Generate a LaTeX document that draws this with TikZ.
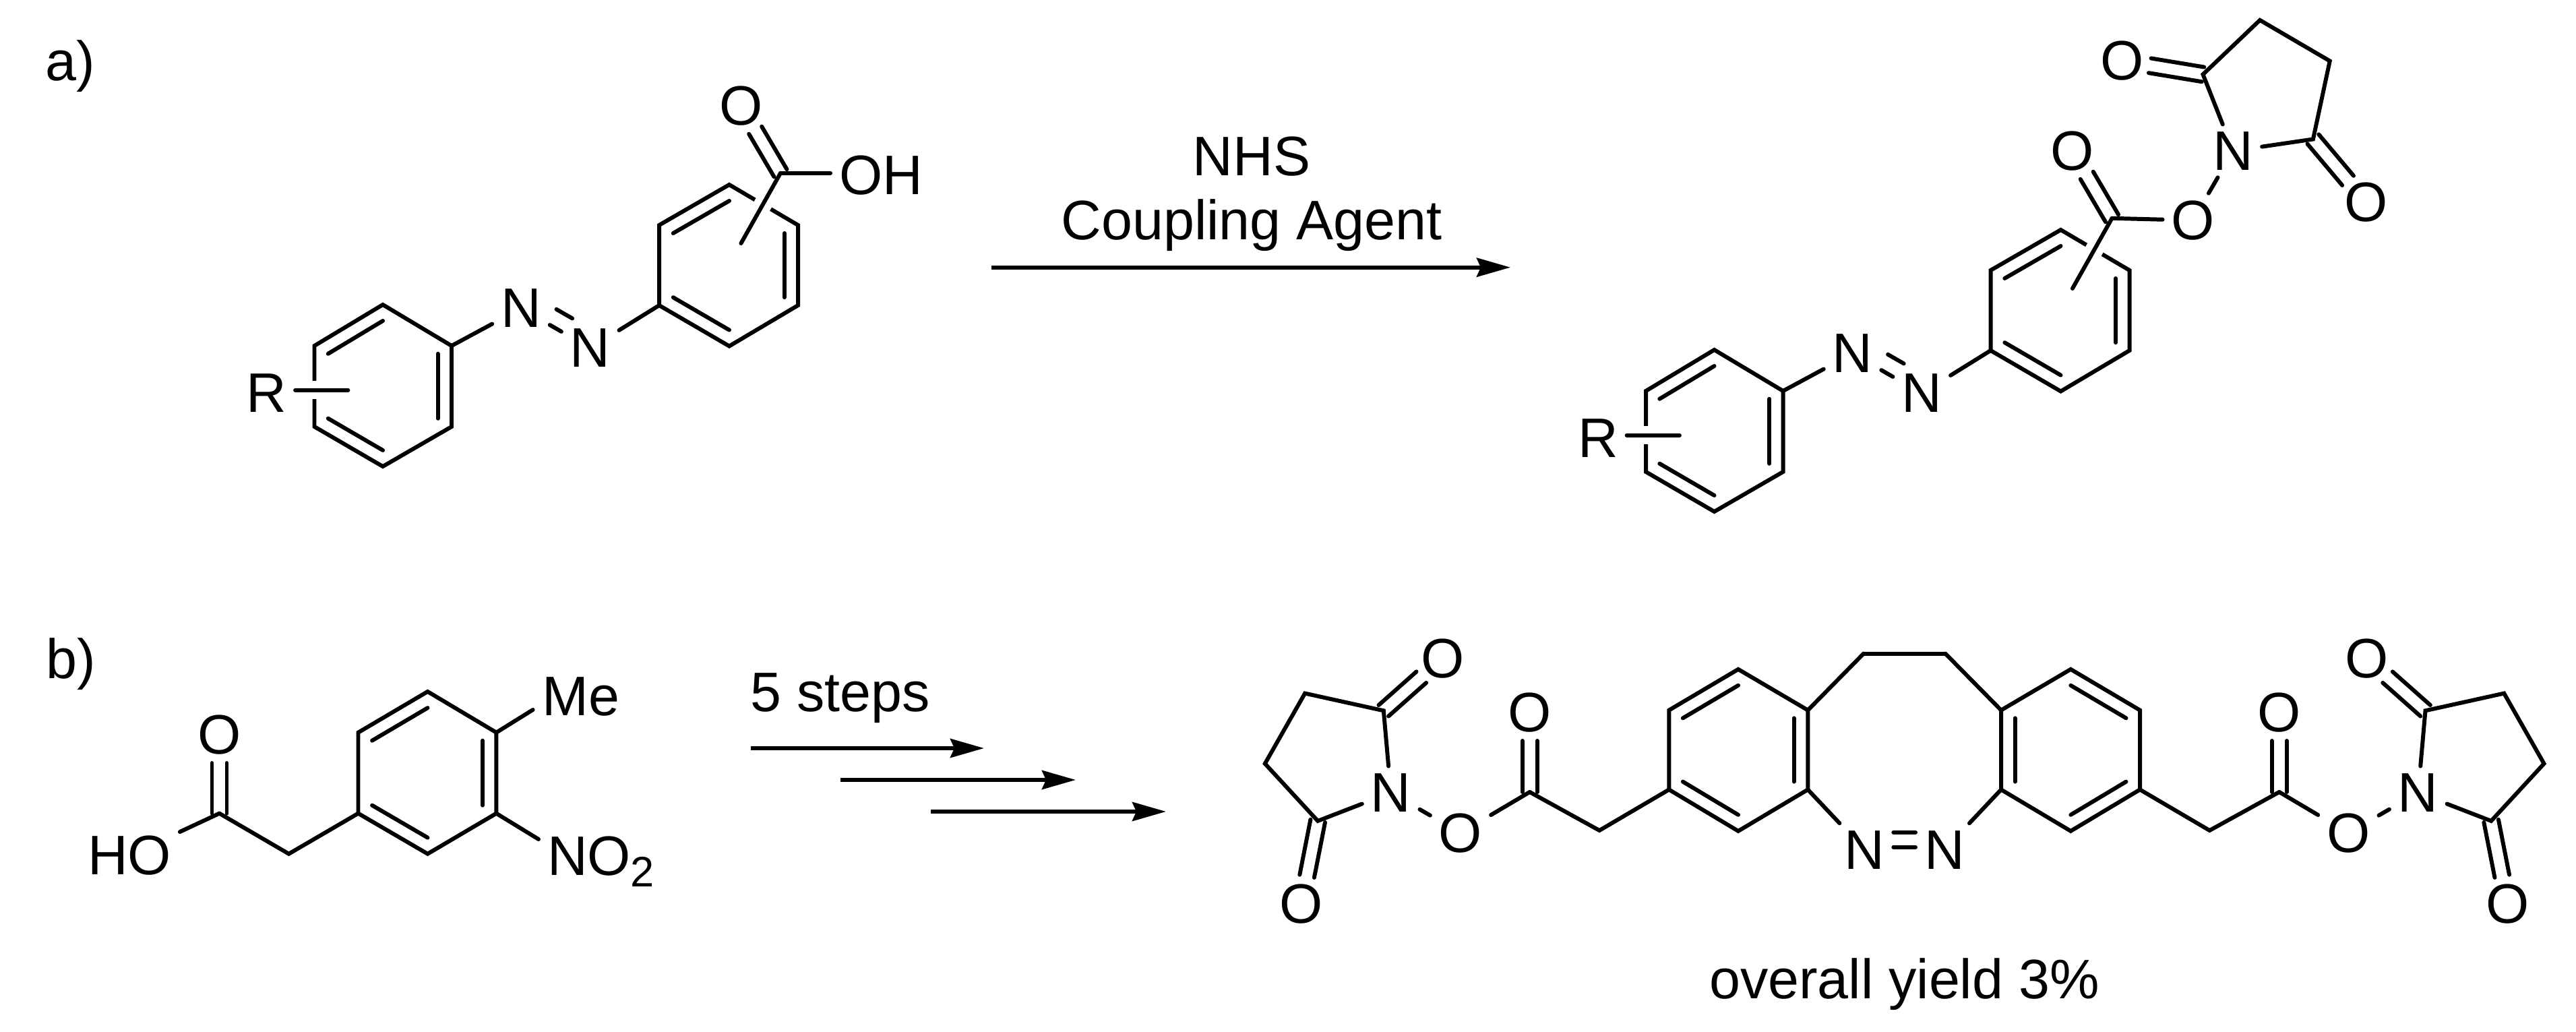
\documentclass[tikz,border=0pt]{standalone}
\usepackage{fontspec}
\setmainfont{Liberation Sans}
\usepackage{tikz}
\usetikzlibrary{arrows.meta,calc}

% double bond lines
\newcommand{\innerbond}[3]{\draw ($(#1)!.2!(#3)$) -- ($(#2)!.2!(#3)$);}
\newcommand{\dblbond}[2]{
\draw[shorten >=0.42cm] ($(#1)!0.11cm!90:(#2)$) -- ($(#2)!0.11cm!-90:(#1)$);
\draw[shorten >=0.42cm] ($(#1)!0.11cm!-90:(#2)$) -- ($(#2)!0.11cm!90:(#1)$);
}

\tikzset{
atom/.style={inner xsep=0.1cm,inner ysep=0.08cm},
txt/.style={inner sep=0pt,anchor=base},
halo/.style={preaction={draw,white,line width=0.27cm,line cap=butt}},
reaction/.style={-{Stealth[length=0.5cm,width=0.28cm,inset=0.06cm]},line width=0.06cm,line cap=butt},
azobenzene/.pic={
\coordinate (1) at (5.68cm,-4.52cm);
\coordinate (2) at (6.70cm,-5.13cm);
\coordinate (3) at (6.70cm,-6.33cm);
\coordinate (4) at (5.68cm,-6.92cm);
\coordinate (5) at (4.665cm,-6.33cm);
\coordinate (6) at (4.665cm,-5.13cm);
\coordinate (ca) at (5.68cm,-5.72cm);
\coordinate (7) at (10.82cm,-2.74cm);
\coordinate (8) at (11.84cm,-3.34cm);
\coordinate (9) at (11.84cm,-4.53cm);
\coordinate (10) at (10.82cm,-5.135cm);
\coordinate (11) at (9.78cm,-4.53cm);
\coordinate (12) at (9.78cm,-3.34cm);
\coordinate (cb) at (10.82cm,-3.94cm);
\draw (1) -- (2) -- (3) -- (4) -- (5) -- (6) -- cycle;
\draw (7) -- (8) -- (9) -- (10) -- (11) -- (12) -- cycle;
\innerbond{6}{1}{ca}
\innerbond{2}{3}{ca}
\innerbond{5}{4}{ca}
\innerbond{12}{7}{cb}
\innerbond{8}{9}{cb}
\innerbond{11}{10}{cb}
\node[atom] (n1) at (7.73cm,-4.575cm) {N};
\node[atom] (n2) at (8.757cm,-5.165cm) {N};
\draw (2) -- (n1);
\draw (n1) -- (n2);
\draw (n2) -- (11);
\draw ($(n1)!.39!(n2)!0.25cm!90:(n2)$) -- ($(n1)!.62!(n2)!0.25cm!90:(n2)$);
\node[atom] (r) at (3.953cm,-5.826cm) {R};
\coordinate (rend) at (5.164cm,-5.787cm);
\draw[halo] (rend -| r.east) -- (rend);
\coordinate (c) at (11.58cm,-2.568cm);
\coordinate (cend) at (10.994cm,-3.61cm);
\draw[halo] (c) -- (cend);
\node[atom] (o) at (10.994cm,-1.57cm) {O};
\dblbond{c}{o}
},
esterarm/.pic={
\coordinate (1) at (24.763cm,-11.714cm);
\coordinate (2) at (24.763cm,-10.536cm);
\coordinate (3) at (25.79cm,-9.929cm);
\coordinate (4) at (26.823cm,-10.536cm);
\coordinate (5) at (26.823cm,-11.714cm);
\coordinate (6) at (25.79cm,-12.329cm);
\coordinate (ca) at (25.79cm,-11.125cm);
\draw (1) -- (2) -- (3) -- (4) -- (5) -- (6) -- cycle;
\innerbond{2}{3}{ca}
\innerbond{4}{5}{ca}
\innerbond{1}{6}{ca}
\coordinate (b) at (27.65cm,-9.696cm);
\draw (4) -- (b);
\node[atom] (n) at (27.665cm,-12.607cm) {N};
\draw (5) -- (n);
\coordinate (ch) at (23.73cm,-12.32cm);
\coordinate (c) at (22.696cm,-11.75cm);
\draw (1) -- (ch) -- (c);
\node[atom] (o1) at (22.696cm,-10.57cm) {O};
\dblbond{c}{o1}
\node[atom] (o2) at (21.67cm,-12.357cm) {O};
\node[atom] (n2) at (20.636cm,-11.76cm) {N};
\draw (c) -- (o2);
\draw (o2) -- (n2);
\coordinate (s1) at (20.528cm,-10.543cm);
\coordinate (s2) at (19.361cm,-10.286cm);
\coordinate (s3) at (18.768cm,-11.329cm);
\coordinate (s4) at (19.552cm,-12.179cm);
\draw (n2) -- (s1) -- (s2) -- (s3) -- (s4) -- (n2);
\node[atom] (o3) at (21.402cm,-9.768cm) {O};
\node[atom] (o4) at (19.31cm,-13.41cm) {O};
\dblbond{s1}{o3}
\dblbond{s4}{o4}
}
}

\begin{document}
\begin{tikzpicture}[line width=1.7pt,line cap=round,font=\fontsize{23.5}{28}\selectfont]
\useasboundingbox (0cm,0cm) rectangle (38.22cm,-15.31cm);
\node[txt] (a) at (1.045cm,-1.195cm) {a)};
\node[txt] (b) at (1.05cm,-10.067cm) {b)};
% top: acid
\pic (x) at (0cm,0cm) {azobenzene};
\node[atom] (oh) at (13.07cm,-2.6cm) {OH};
\draw (xc -| oh.west) -- (xc);
% top: reagents
\node[txt] (nhs) at (18.57cm,-2.61cm) {NHS};
\node[txt] (agent) at (18.57cm,-3.56cm) {Coupling Agent};
\coordinate (a1) at (14.71cm,-3.967cm);
\coordinate (a2) at (22.41cm,-3.967cm);
\draw[reaction] (a1) -- (a2);
% top: product
\pic (y) at (19.755cm,-0.67cm) {azobenzene};
\node[atom] (o1) at (32.536cm,-3.269cm) {O};
\node[atom] (n1) at (33.133cm,-2.239cm) {N};
\coordinate (s1) at (32.685cm,-1.104cm);
\coordinate (s2) at (33.53cm,-0.299cm);
\coordinate (s3) at (34.567cm,-0.905cm);
\coordinate (s4) at (34.319cm,-2.065cm);
\draw (yc) -- (o1);
\draw (o1) -- (n1);
\draw (n1) -- (s1) -- (s2) -- (s3) -- (s4) -- (n1);
\node[atom] (o2) at (31.483cm,-0.905cm) {O};
\node[atom] (o3) at (35.106cm,-3cm) {O};
\dblbond{s1}{o2}
\dblbond{s4}{o3}
% bottom: start material
\coordinate (1) at (6.345cm,-10.26cm);
\coordinate (2) at (7.364cm,-10.867cm);
\coordinate (3) at (7.364cm,-12.067cm);
\coordinate (4) at (6.345cm,-12.667cm);
\coordinate (5) at (5.315cm,-12.067cm);
\coordinate (6) at (5.315cm,-10.867cm);
\coordinate (7) at (6.345cm,-11.467cm);
\draw (1) -- (2) -- (3) -- (4) -- (5) -- (6) -- cycle;
\innerbond{6}{1}{7}
\innerbond{2}{3}{7}
\innerbond{5}{4}{7}
\node[txt] (me) at (8.62cm,-10.61cm) {Me};
\coordinate (mend) at (7.906cm,-10.53cm);
\draw (2) -- (mend);
\node[txt,anchor=base west] (no) at (8.09cm,-12.987cm) {NO\raisebox{-0.2em}{\fontsize{18}{20}\selectfont 2}};
\coordinate (nend) at (7.99cm,-12.45cm);
\draw (3) -- (nend);
\coordinate (8) at (4.285cm,-12.667cm);
\coordinate (9) at (3.255cm,-12.067cm);
\draw (5) -- (8) -- (9);
\node[atom] (o) at (3.255cm,-10.9cm) {O};
\dblbond{9}{o}
\node[atom] (ho) at (1.92cm,-12.69cm) {HO};
\draw (9) -- (ho);
% bottom: arrows
\node[txt] (steps) at (12.47cm,-10.56cm) {5 steps};
\coordinate (b1) at (11.14cm,-11.1cm);
\coordinate (b2) at (14.6cm,-11.1cm);
\coordinate (b3) at (12.47cm,-11.57cm);
\coordinate (b4) at (15.96cm,-11.57cm);
\coordinate (b5) at (13.81cm,-12.04cm);
\coordinate (b6) at (17.3cm,-12.04cm);
\draw[reaction] (b1) -- (b2);
\draw[reaction] (b3) -- (b4);
\draw[reaction] (b5) -- (b6);
% bottom: product
\pic (l) at (0cm,0cm) {esterarm};
\pic[xscale=-1] (r) at (56.513cm,0cm) {esterarm};
\draw (lb) -- (rb);
\draw ([yshift=0.04cm]ln.east) -- ([yshift=0.04cm]rn.west);
\draw ([yshift=0.26cm]ln.east) -- ([yshift=0.26cm]rn.west);
\node[txt] (yield) at (28.255cm,-14.817cm) {overall yield 3\%};
\end{tikzpicture}
\end{document}
